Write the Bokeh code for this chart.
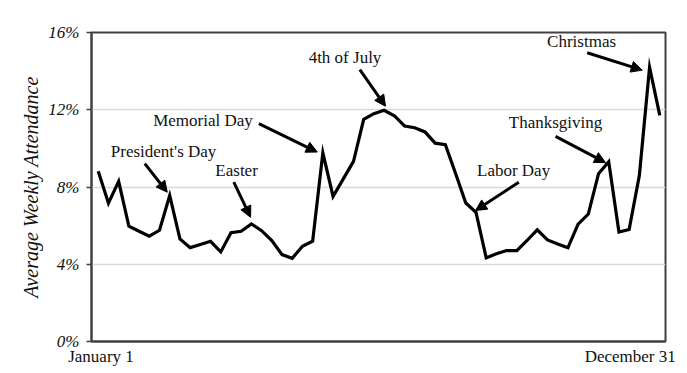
from bokeh.plotting import figure
from bokeh.models import Range1d, FixedTicker, Label, Arrow, NormalHead, PrintfTickFormatter
from bokeh.embed import file_html
from bokeh.resources import INLINE

# weekly attendance share (%) across the year, 56 weekly points
weeks = list(range(56))
attendance = [8.82, 7.16, 8.29, 5.97, 5.71, 5.45, 5.76, 7.56, 5.31, 4.86,
              5.02, 5.19, 4.64, 5.63, 5.71, 6.09, 5.74, 5.23, 4.50, 4.31,
              4.93, 5.19, 9.77, 7.51, 8.42, 9.33, 11.50, 11.80, 11.97, 11.69,
              11.16, 11.07, 10.85, 10.27, 10.19, 8.70, 7.17, 6.69, 4.33, 4.54,
              4.71, 4.71, 5.23, 5.78, 5.26, 5.05, 4.85, 6.08, 6.60, 8.69,
              9.31, 5.67, 5.80, 8.60, 14.20, 11.71]

y_ticks = [0, 4, 8, 12, 16]
x_tick_labels = {"start": "January 1", "end": "December 31"}

# holiday annotations
holidays = ["President's Day", "Easter", "Memorial Day", "4th of July",
            "Labor Day", "Thanksgiving", "Christmas"]
label_x = [6.40, 13.55, 10.26, 24.17, 40.68, 44.79, 47.34]
label_y = [9.85, 8.86, 11.45, 14.72, 8.86, 11.32, 15.55]
tail_x = [4.56, 13.28, 15.73, 25.62, 41.19, 44.79, 47.89]
tail_y = [9.21, 8.25, 11.28, 14.08, 8.25, 10.62, 14.95]
head_x = [6.76, 14.92, 21.45, 28.14, 36.95, 49.69, 53.28]
head_y = [7.73, 6.43, 9.81, 12.18, 6.78, 9.26, 14.05]

SERIF = "Liberation Serif"

p = figure(frame_width=574, frame_height=309, output_backend="svg", toolbar_location=None,
           x_range=Range1d(-0.66, 55.56), y_range=Range1d(0, 16),
           min_border_left=91, min_border_right=14, min_border_top=32,
           min_border_bottom=10)
p.background_fill_color = "white"
p.border_fill_color = "white"
p.outline_line_color = "#404040"
p.outline_line_width = 2

# grid
p.xgrid.visible = False
p.ygrid.ticker = FixedTicker(ticks=y_ticks)
p.ygrid.grid_line_color = "#d9d9d9"
p.ygrid.grid_line_width = 1.5

# y axis
p.yaxis.ticker = FixedTicker(ticks=y_ticks)
p.yaxis.formatter = PrintfTickFormatter(format="%d%%")
p.yaxis.axis_line_color = "#404040"
p.yaxis.axis_line_width = 2
p.yaxis.major_tick_line_color = "#404040"
p.yaxis.major_tick_line_width = 1.5
p.yaxis.major_tick_out = 5
p.yaxis.major_tick_in = 0
p.yaxis.minor_tick_line_color = None
p.yaxis.major_label_standoff = 7
p.yaxis.major_label_text_font = SERIF
p.yaxis.major_label_text_font_style = "italic"
p.yaxis.major_label_text_font_size = "17px"
p.yaxis.major_label_text_color = "#111111"
p.yaxis.axis_label = "Average Weekly Attendance"
p.yaxis.axis_label_text_font = SERIF
p.yaxis.axis_label_text_font_style = "italic"
p.yaxis.axis_label_text_font_size = "20px"
p.yaxis.axis_label_text_color = "#111111"
p.yaxis.axis_label_standoff = 3

# x axis
xpos = [0.27, 52.1]
p.xaxis.ticker = FixedTicker(ticks=xpos)
p.xaxis.major_label_overrides = {xpos[0]: x_tick_labels["start"], xpos[1]: x_tick_labels["end"]}
p.xaxis.axis_line_color = "#404040"
p.xaxis.axis_line_width = 2
p.xaxis.major_tick_line_color = None
p.xaxis.minor_tick_line_color = None
p.xaxis.major_tick_out = 0
p.xaxis.major_tick_in = 0
p.xaxis.major_label_standoff = 5
p.xaxis.major_label_text_font = SERIF
p.xaxis.major_label_text_font_size = "17px"
p.xaxis.major_label_text_color = "#111111"

p.line(weeks, attendance, line_color="black", line_width=3.2, line_join="miter")

for i, name in enumerate(holidays):
    p.add_layout(Label(x=label_x[i], y=label_y[i], text=name, text_font=SERIF,
                       text_font_size="17px", text_color="#111111",
                       text_align="center", text_baseline="middle"))
    p.add_layout(Arrow(end=NormalHead(size=11, fill_color="black", line_color="black"),
                       x_start=tail_x[i], y_start=tail_y[i],
                       x_end=head_x[i], y_end=head_y[i],
                       line_color="black", line_width=3))

open("out.html", "w").write(file_html(p, INLINE))
